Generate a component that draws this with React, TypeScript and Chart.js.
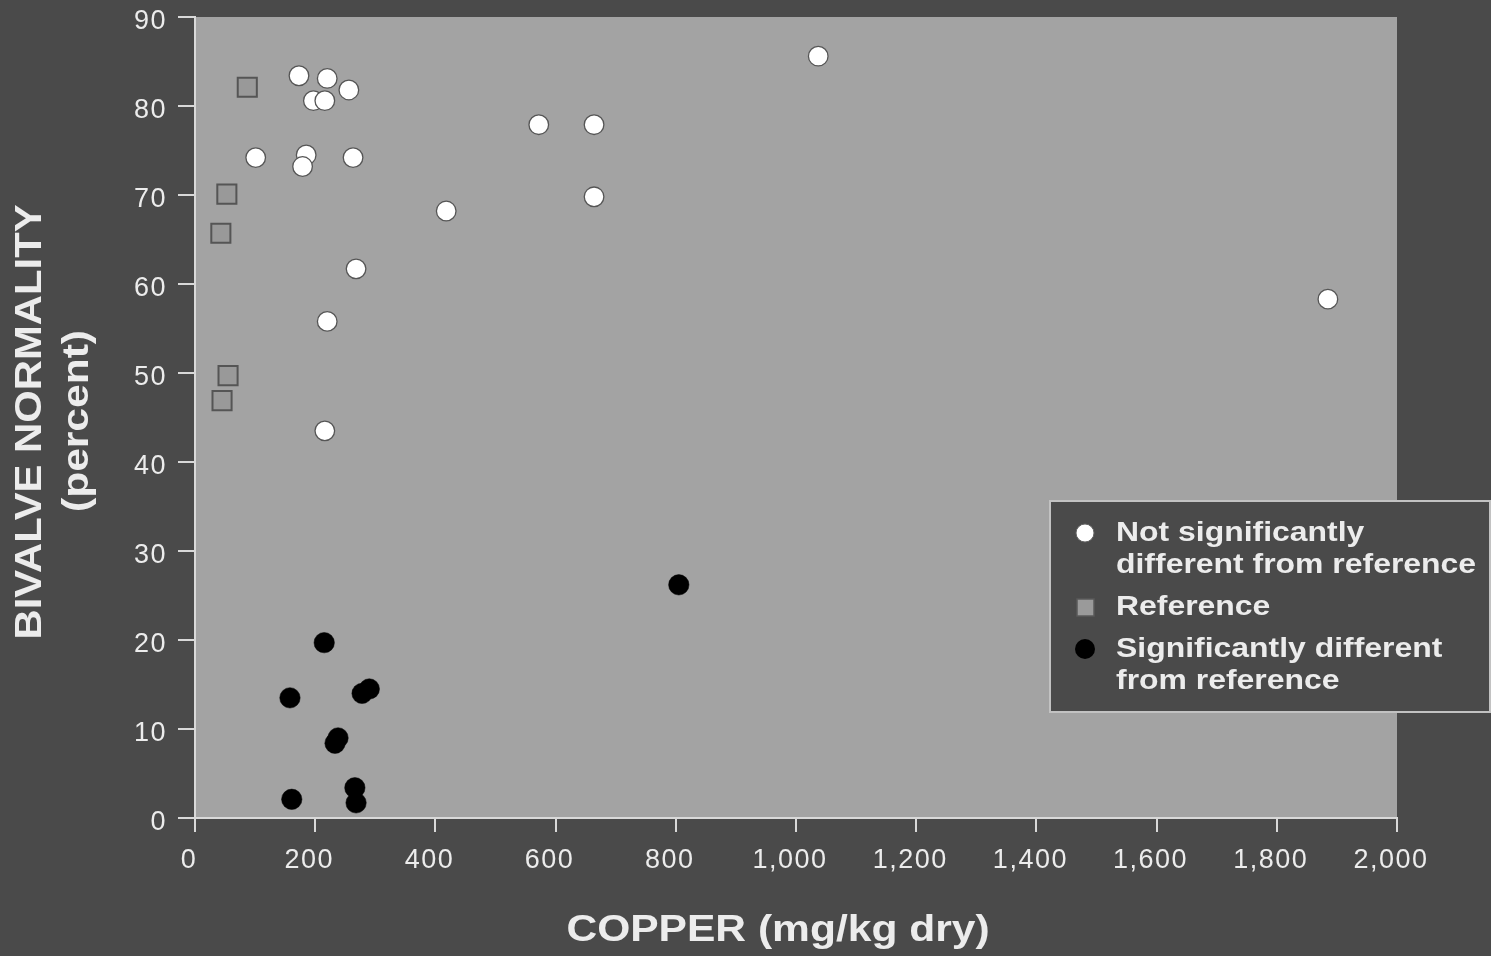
import React, { useEffect, useRef } from "react";
import { Chart, registerables } from "chart.js";

Chart.register(...registerables);

// ---- Data ----
const notSigCopper = [173, 220, 256, 197, 216, 101, 185, 179, 263, 268, 220, 216, 572, 664, 664, 418, 1037, 1885];
const notSigNormality = [83.4, 83.1, 81.8, 80.6, 80.6, 74.2, 74.5, 73.2, 74.2, 61.7, 55.8, 43.5, 77.9, 77.9, 69.8, 68.2, 85.6, 58.3];

const refCopper = [87, 53, 43, 55, 45];
const refNormality = [82.1, 70.1, 65.7, 49.7, 46.9];

const sigCopper = [215, 158, 278, 290, 233, 238, 161, 266, 268, 805];
const sigNormality = [19.7, 13.5, 14.0, 14.5, 8.4, 9.0, 2.1, 3.4, 1.7, 26.2];

const xTickValues = [0, 200, 400, 600, 800, 1000, 1200, 1400, 1600, 1800, 2000];
const xTickLabels = ["0", "200", "400", "600", "800", "1,000", "1,200", "1,400", "1,600", "1,800", "2,000"];
const yTickValues = [0, 10, 20, 30, 40, 50, 60, 70, 80, 90];
const yTickLabels = ["0", "10", "20", "30", "40", "50", "60", "70", "80", "90"];

const seriesNames = ["Not significantly different from reference", "Reference", "Significantly different from reference"];
const legendLines = [["Not significantly", "different from reference"], ["Reference"], ["Significantly different", "from reference"]];
const xTitle = "COPPER (mg/kg dry)";
const yTitleLines = ["BIVALVE NORMALITY", "(percent)"];

// ---- Styles ----
const PAGE_BG = "#4a4a4a";
const PLOT_BG = "#a3a3a3";
const AXIS = "#d9d9d9";
const TEXT = "#ececec";
const FONT = "'Liberation Sans', Arial, Helvetica, sans-serif";
const W = 1491;
const H = 956;

function stretchedText(
  ctx: CanvasRenderingContext2D,
  text: string,
  x: number,
  y: number,
  font: string,
  sx: number,
  align: CanvasTextAlign,
  rot = 0
) {
  ctx.save();
  ctx.translate(x, y);
  if (rot) ctx.rotate(rot);
  ctx.scale(sx, 1);
  ctx.font = font;
  ctx.fillStyle = TEXT;
  ctx.textAlign = align;
  ctx.textBaseline = "middle";
  ctx.fillText(text, 0, 0);
  ctx.restore();
}

const decorPlugin = {
  id: "decor",
  beforeDraw(chart: any) {
    const { ctx, chartArea: a } = chart;
    ctx.save();
    ctx.fillStyle = PAGE_BG;
    ctx.fillRect(0, 0, chart.width, chart.height);
    ctx.fillStyle = PLOT_BG;
    ctx.fillRect(a.left, a.top, a.right - a.left, a.bottom - a.top);
    ctx.restore();
    (ctx as any).letterSpacing = "1.5px";
  },
  beforeDatasetsDraw(chart: any) {
    (chart.ctx as any).letterSpacing = "0px";
  },
  afterDraw(chart: any) {
    const ctx: CanvasRenderingContext2D = chart.ctx;
    (ctx as any).letterSpacing = "0px";
    const titleFont = `bold 37px ${FONT}`;
    stretchedText(ctx, xTitle, 778, 931, titleFont, 1.15, "center");
    stretchedText(ctx, yTitleLines[0], 31, 422, titleFont, 1.13, "center", -Math.PI / 2);
    stretchedText(ctx, yTitleLines[1], 78, 421, titleFont, 1.15, "center", -Math.PI / 2);

    // legend box
    ctx.save();
    ctx.fillStyle = PAGE_BG;
    ctx.fillRect(1050, 501, 440, 211);
    ctx.strokeStyle = "#c2c2c2";
    ctx.lineWidth = 2;
    ctx.strokeRect(1050, 501, 440, 211);
    ctx.restore();

    const legendFont = `bold 28px ${FONT}`;
    const lineYs = [[533, 565], [607], [649, 681]];
    legendLines.forEach((lines, i) => {
      lines.forEach((ln, j) => {
        stretchedText(ctx, ln, 1116, lineYs[i][j], legendFont, 1.14, "left");
      });
    });
    // legend markers
    ctx.save();
    ctx.beginPath();
    ctx.arc(1085, 533, 9, 0, Math.PI * 2);
    ctx.fillStyle = "#ffffff";
    ctx.fill();
    ctx.lineWidth = 1;
    ctx.strokeStyle = "#666666";
    ctx.stroke();
    ctx.fillStyle = "#9a9a9a";
    ctx.fillRect(1077, 599, 17, 17);
    ctx.strokeStyle = "#5a5a5a";
    ctx.lineWidth = 1.5;
    ctx.strokeRect(1077, 599, 17, 17);
    ctx.beginPath();
    ctx.arc(1085, 649, 10, 0, Math.PI * 2);
    ctx.fillStyle = "#000000";
    ctx.fill();
    ctx.restore();
  },
};

export default function App() {
  const canvasRef = useRef<HTMLCanvasElement | null>(null);

  useEffect(() => {
    const canvas = canvasRef.current;
    if (!canvas) return;
    const toPts = (xs: number[], ys: number[]) => xs.map((x, i) => ({ x, y: ys[i] }));

    const chart = new Chart(canvas, {
      type: "scatter",
      data: {
        datasets: [
          {
            label: seriesNames[0],
            data: toPts(notSigCopper, notSigNormality),
            pointStyle: "circle",
            pointRadius: 9.8,
            pointBackgroundColor: "#ffffff",
            pointBorderColor: "#555555",
            pointBorderWidth: 1.3,
          },
          {
            label: seriesNames[1],
            data: toPts(refCopper, refNormality),
            pointStyle: "rect",
            pointRadius: 13.5,
            pointBackgroundColor: "#999999",
            pointBorderColor: "#555555",
            pointBorderWidth: 2,
          },
          {
            label: seriesNames[2],
            data: toPts(sigCopper, sigNormality),
            pointStyle: "circle",
            pointRadius: 10.2,
            pointBackgroundColor: "#000000",
            pointBorderColor: "#000000",
            pointBorderWidth: 0.5,
          },
        ],
      },
      options: {
        animation: false,
        responsive: false,
        devicePixelRatio: 1,
        layout: { padding: { left: 0, top: 17, right: 94, bottom: 0 } },
        plugins: {
          legend: { display: false },
          tooltip: { enabled: false },
          title: { display: false },
        },
        scales: {
          x: {
            type: "linear",
            position: "bottom",
            min: 0,
            max: 2000,
            afterBuildTicks: (scale: any) => {
              scale.ticks = xTickValues.map((v) => ({ value: v }));
            },
            afterFit: (scale: any) => {
              scale.height = 138;
              scale.paddingLeft = 0;
              scale.paddingRight = 0;
            },
            grid: {
              display: true,
              drawOnChartArea: false,
              drawTicks: true,
              tickLength: 14,
              color: AXIS,
              lineWidth: 2,
            },
            border: { display: true, color: AXIS, width: 2 },
            ticks: {
              color: TEXT,
              font: { family: FONT, size: 27 },
              padding: 12,
              maxRotation: 0,
              autoSkip: false,
              labelOffset: -6,
              callback: (_v: any, i: number) => xTickLabels[i],
            },
          },
          y: {
            type: "linear",
            position: "left",
            min: 0,
            max: 90,
            afterBuildTicks: (scale: any) => {
              scale.ticks = yTickValues.map((v) => ({ value: v }));
            },
            afterFit: (scale: any) => {
              scale.width = 195;
              scale.paddingTop = 0;
              scale.paddingBottom = 0;
            },
            grid: {
              display: true,
              drawOnChartArea: false,
              drawTicks: true,
              tickLength: 17,
              color: AXIS,
              lineWidth: 2,
            },
            border: { display: true, color: AXIS, width: 2 },
            ticks: {
              color: TEXT,
              font: { family: FONT, size: 27 },
              padding: 11,
              autoSkip: false,
              labelOffset: 5,
              callback: (_v: any, i: number) => yTickLabels[i],
            },
          },
        },
      },
      plugins: [decorPlugin],
    } as any);

    return () => {
      chart.destroy();
    };
  }, []);

  return (
    <div
      style={{
        position: "absolute",
        left: 0,
        top: 0,
        width: W,
        height: H,
        background: PAGE_BG,
        overflow: "hidden",
      }}
    >
      <canvas ref={canvasRef} width={W} height={H} style={{ display: "block", width: W, height: H }} />
    </div>
  );
}
